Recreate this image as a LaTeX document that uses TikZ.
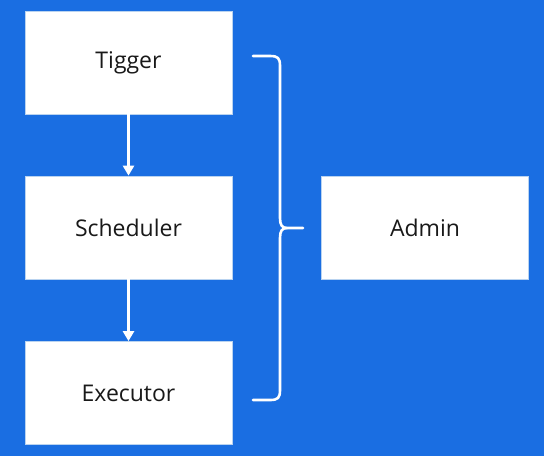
\documentclass[tikz,border=0pt]{standalone}
\usepackage{fontspec}
\setmainfont{Open Sans}
\usetikzlibrary{arrows.meta}
\definecolor{bg}{HTML}{1A6EE2}
\definecolor{edge}{HTML}{B9D3F0}
\begin{document}
\begin{tikzpicture}[x=1pt,y=-1pt,
  box/.style={draw=edge,line width=0.8pt,fill=white,minimum width=207pt,minimum height=103pt,inner sep=0pt,font=\fontsize{23}{26}\selectfont,text=black!90},
  flow/.style={draw=white,line width=2.6pt,-{Triangle[width=11pt,length=10pt]}},
  brace/.style={draw=white,line width=2.6pt,line cap=round,line join=round}]
\fill[bg] (0,0) rectangle (544,456);
\useasboundingbox (0,0) rectangle (544,456);
\node[box] (tig) at (128.5,62.5) {Tigger};
\node[box] (sch) at (128.5,227.5) {Scheduler};
\node[box] (exe) at (128.5,393) {Executor};
\node[box] (adm) at (425,227.5) {Admin};
\draw[flow] (tig.south) -- (sch.north);
\draw[flow] (sch.south) -- (exe.north);
\coordinate (bt) at (253,56);
\coordinate (bb) at (253,400);
\coordinate (tip) at (303,228);
\draw[brace] (bt) -- (270,56) .. controls (278,56) and (280,58) .. (280,66)
  -- (280,218) .. controls (280,225) and (282,228) .. (287,228) -- (tip);
\draw[brace] (287,228) .. controls (282,228) and (280,231) .. (280,238)
  -- (280,390) .. controls (280,398) and (278,400) .. (270,400) -- (bb);
\end{tikzpicture}
\end{document}
